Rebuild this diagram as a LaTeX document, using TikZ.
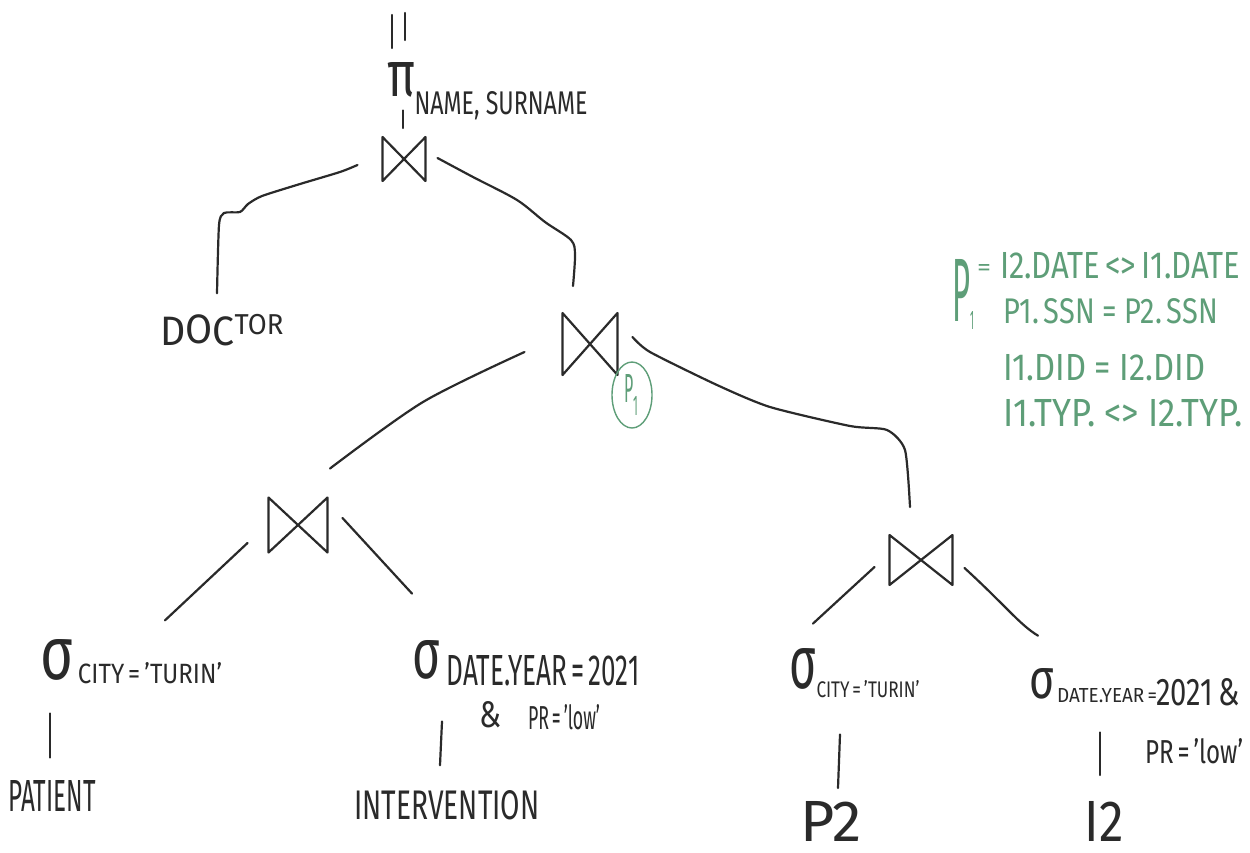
\documentclass[tikz,border=0pt]{standalone}
\usepackage{fontspec}
\setmainfont{Fira Sans}
\usepackage{graphicx}
\usetikzlibrary{calc,shapes.geometric}
\definecolor{ink}{HTML}{2A2A2A}
\definecolor{note}{HTML}{5E9E78}
% text stretched to a given width and height (in pt)
\newcommand\fitto[3]{\resizebox{#1pt}{#2pt}{#3}}

\begin{document}
\begin{tikzpicture}[x=1pt,y=-1pt,
  every node/.style={inner sep=0pt,outer sep=0pt,text=ink},
  stroke/.style={draw=ink,line width=2.2pt,line cap=round,line join=round},
  label/.style={anchor=center},
  notetext/.style={anchor=west,text=note}]

\fill[white] (0,0) rectangle (1250,852);
\useasboundingbox (0,0) rectangle (1250,852);

% ---- projection on top ----
\draw[stroke] (392,15) -- (392,48);
\draw[stroke] (405,13) -- (405,40);
\node[label] (pi) at (401,80) {\fitto{28}{34}{π}};
\node[label] (pisub) at (501,106) {\fitto{173}{23}{NAME, SURNAME}};

% ---- join operators ----
\node[minimum width=43pt,minimum height=44pt] (j1) at (404,159) {};
\node[minimum width=55pt,minimum height=62pt] (j2) at (590,344) {};
\node[minimum width=59pt,minimum height=55pt] (j3) at (298,525) {};
\node[minimum width=63pt,minimum height=50pt] (j4) at (921,560) {};
\foreach \j in {j1,j2,j3,j4}
  \draw[stroke] (\j.north west) -- (\j.south east) -- (\j.north east) -- (\j.south west) -- cycle;

% join condition tag
\node[draw=note,line width=1.4pt,ellipse,minimum width=40pt,minimum height=66pt] (p1tag) at (632,395) {};
\node[text=note] (p1tagtext) at (631,395) {\fitto{14}{28}{P\raisebox{-0.6ex}{\scriptsize 1}}};

% ---- relations and selections ----
\node[label] (doc) at (222,330) {\fitto{123}{31}{D\raisebox{0.1ex}{O}C\raisebox{0.5ex}{\scriptsize TOR}}};

\node[label] (sig1) at (57,660) {\fitto{33}{40}{σ}};
\node[label] (sub1) at (150,673) {\fitto{144}{21}{CITY\,=\,'TURIN'}};
\node[label] (patient) at (52,796) {\fitto{87}{31}{PATIENT}};

\node[label] (sig2) at (426,660) {\fitto{28}{38}{σ}};
\node[label] (sub2) at (543,671) {\fitto{193}{30}{DATE.YEAR\,=\,2021}};
\node[label] (amp2) at (490,715) {\fitto{22}{26}{\&}};
\node[label] (pr2) at (564,717) {\fitto{72}{25}{PR\,=\,'low'}};
\node[label] (interv) at (447,805) {\fitto{185}{29}{INTERVENTION}};

\node[label] (sig3) at (803,669) {\fitto{27}{40}{σ}};
\node[label] (sub3) at (868,689) {\fitto{103}{17}{CITY\,=\,'TURIN'}};
\node[label] (p2) at (831,821) {\fitto{62}{40}{P2}};

\node[label] (sig4) at (1042,684) {\fitto{25}{30}{σ}};
\node[label] (sub4) at (1107,696) {\fitto{100}{14}{DATE.YEAR\,=}};
\node[label] (sub4b) at (1198,692) {\fitto{83}{27}{2021\,\&}};
\node[label] (pr4) at (1194,751) {\fitto{98}{25}{PR\,=\,'low'}};
\node[label] (i2) at (1104,821) {\fitto{39}{40}{I2}};

% ---- connectors ----
\draw[stroke] ($(pi.south)+(2,13)$) -- ($(j1.north)+(-1,-9)$);

\coordinate (a1) at ($(j1.west)+(-25,6)$);
\coordinate (a2) at ($(doc.north)+(-5,-21)$);
\draw[stroke] plot[smooth,tension=0.4] coordinates
  {(a1) (340,172) (300,184) (262,196) (248,204) (240,212) (224,213) (219,225) (a2)};

\coordinate (b1) at ($(j1.east)+(12,-1)$);
\coordinate (b2) at ($(j2.north)+(-17,-27)$);
\draw[stroke] plot[smooth,tension=0.5] coordinates
  {(b1) (473,177) (517,200) (545,222) (571,240) (575,255) (b2)};

\coordinate (c1) at ($(j2.west)+(-38,8)$);
\coordinate (c2) at ($(j3.north)+(32,-29)$);
\draw[stroke] plot[smooth,tension=0.5] coordinates {(c1) (423,402) (c2)};

\coordinate (d1) at ($(j2.east)+(15,-7)$);
\coordinate (d2) at ($(j4.north)+(-11,-28)$);
\draw[stroke] plot[smooth,tension=0.4] coordinates
  {(d1) (650,352) (717,385) (770,407) (850,426) (887,430) (905,450) (d2)};

\draw[stroke] ($(j3.west)+(-21,18)$) -- ($(sub1.north)+(15,-42)$);
\draw[stroke] ($(j3.east)+(15,-7)$) -- ($(sig2.north)+(-14,-47)$);
\draw[stroke] ($(j4.west)+(-15,7)$) -- ($(sig3.north)+(10,-25)$);
\draw[stroke] ($(j4.east)+(12,8)$) .. controls (1005,605) and (1020,625) .. ($(sig4.north)+(-4,-33)$);

\draw[stroke] ($(sig1.south)+(-7,33)$) -- ($(patient.north)+(-2,-23)$);
\draw[stroke] ($(sig2.south)+(16,42)$) -- ($(interv.north)+(-7,-25)$);
\draw[stroke] ($(sig3.south)+(37,45)$) -- ($(p2.north)+(7,-13)$);
\draw[stroke] ($(sig4.south)+(58,33)$) -- ($(i2.north)+(-4,-26)$);

% ---- predicate P1 ----
\node[text=note,anchor=center] (pdef) at (961,290) {\fitto{18}{62}{P}};
\node[text=note,anchor=center] (pdefsub) at (972,320) {\fitto{4}{18}{1}};
\node[text=note,anchor=center] (pdefeq) at (984,270) {\fitto{14}{11}{=}};
\node[notetext] (g1) at (1000,266) {\fitto{240}{26}{I2.DATE\,<>\,I1.DATE}};
\node[notetext] (g2) at (1003,311) {\fitto{215}{25}{P1.\,SSN = P2.\,SSN}};
\node[notetext] (g3) at (1003,368) {\fitto{202}{26}{I1.DID = I2.DID}};
\node[notetext] (g4) at (1003,413) {\fitto{240}{27}{I1.TYP. <> I2.TYP.}};
\end{tikzpicture}
\end{document}
